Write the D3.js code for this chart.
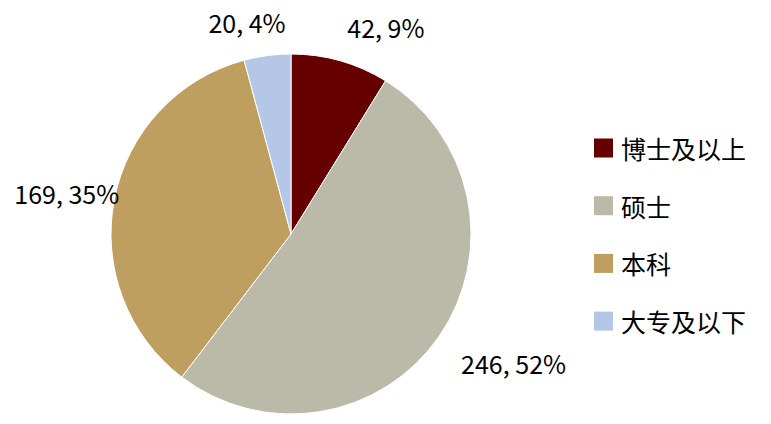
<!DOCTYPE html>
<html><head><meta charset="utf-8">
<script src="https://cdn.jsdelivr.net/npm/d3@7"></script>
<style>
html,body{margin:0;padding:0;background:#fff;}
text{font-family:"Noto Sans CJK SC","Noto Sans",sans-serif;}
</style></head>
<body>
<svg id="chart" width="771" height="424"></svg>
<script>
const categories = ["博士及以上","硕士","本科","大专及以下"];
const values = [42, 246, 169, 20];
const percents = ["9%","52%","35%","4%"];
const colors = ["#660000","#BBB9A7","#BF9F5F","#B4C7E7"];
// label placement (polar: angle in degrees clockwise from top, radius px)
const labelPolar = [[24.6,228],[120,257],[280.4,228],[-11.7,217]];

const svg = d3.select("#chart");
const cx = 291, cy = 234, R = 180;
const g = svg.append("g").attr("transform",`translate(${cx},${cy})`);
const pie = d3.pie().sort(null).value(d=>d)(values);
const arc = d3.arc().innerRadius(0).outerRadius(R);
g.selectAll("path").data(pie).enter().append("path")
  .attr("d",arc).attr("fill",(d,i)=>colors[i])
  .attr("stroke","#fff").attr("stroke-width",1);

g.selectAll("text.lbl").data(pie).enter().append("text")
  .attr("class","lbl")
  .attr("x",(d,i)=>labelPolar[i][1]*Math.sin(labelPolar[i][0]*Math.PI/180))
  .attr("y",(d,i)=>-labelPolar[i][1]*Math.cos(labelPolar[i][0]*Math.PI/180))
  .attr("text-anchor","middle").attr("dominant-baseline","central")
  .attr("font-size",25).attr("fill","#000")
  .text((d,i)=>`${values[i]}, ${percents[i]}`);

const leg = svg.append("g").attr("transform","translate(594,148)");
const rows = leg.selectAll("g").data(categories).enter().append("g")
  .attr("transform",(d,i)=>`translate(0,${i*57.7})`);
rows.append("rect").attr("x",0).attr("y",-9.5).attr("width",19).attr("height",19)
  .attr("fill",(d,i)=>colors[i]);
rows.append("text").attr("x",27).attr("y",0).attr("dominant-baseline","central")
  .attr("font-size",25).attr("fill","#000").text(d=>d);
</script>
</body></html>
